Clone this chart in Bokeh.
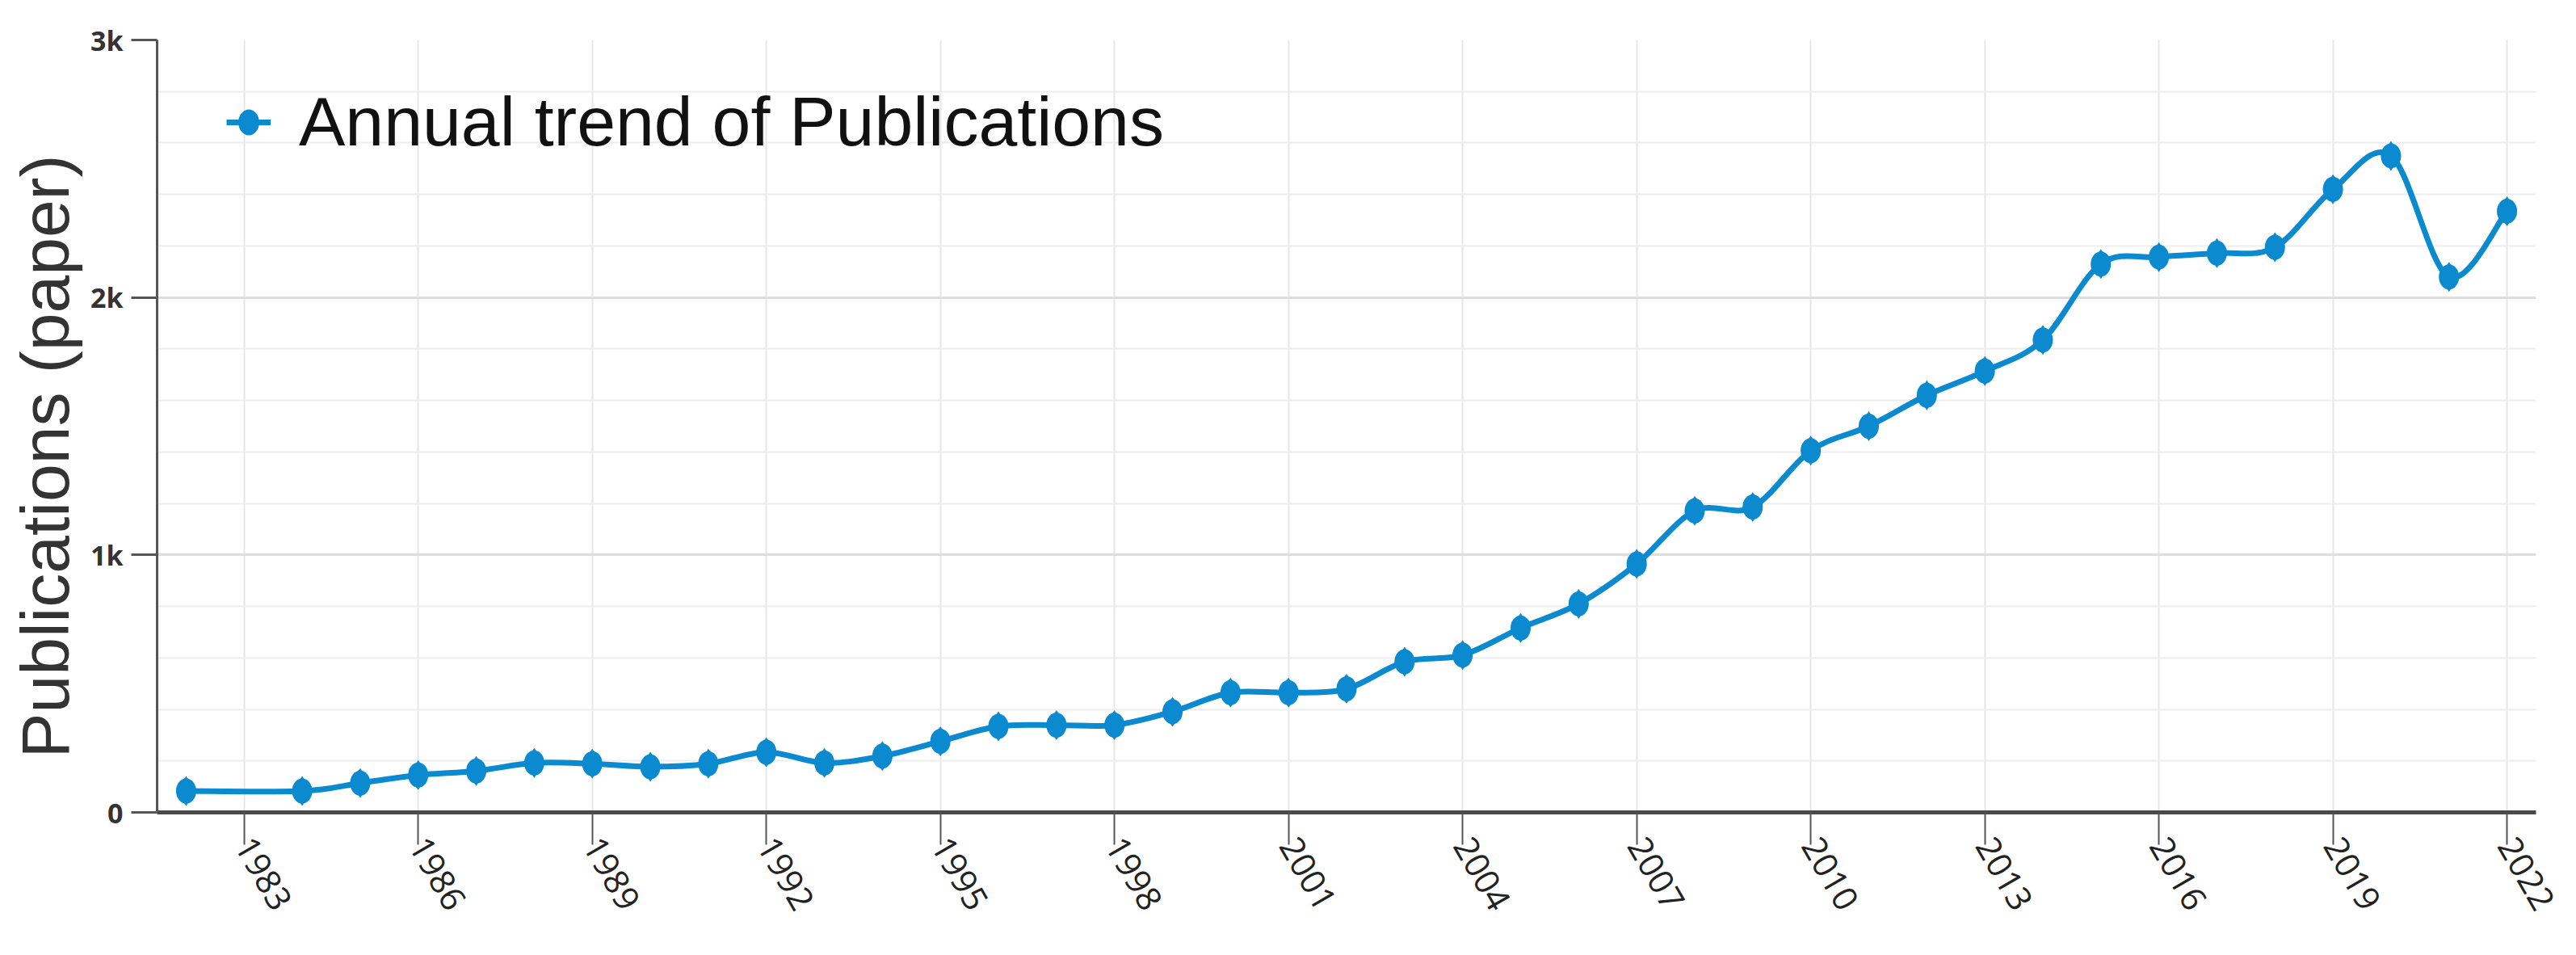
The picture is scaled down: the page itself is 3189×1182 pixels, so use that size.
import math
import numpy as np
from bokeh.plotting import figure
from bokeh.models import (ColumnDataSource, FixedTicker, NumeralTickFormatter,
                          Legend, LegendItem, Range1d, Title)
from bokeh.embed import file_html
from bokeh.resources import INLINE

# ---- data ----
years = [1982, 1984, 1985, 1986, 1987, 1988, 1989, 1990, 1991, 1992,
         1993, 1994, 1995, 1996, 1997, 1998, 1999, 2000, 2001, 2002,
         2003, 2004, 2005, 2006, 2007, 2008, 2009, 2010, 2011, 2012,
         2013, 2014, 2015, 2016, 2017, 2018, 2019, 2020, 2021, 2022]
publications = [83, 83, 114, 145, 161, 192, 189, 177, 189, 234,
                192, 219, 276, 334, 339, 339, 391, 465, 465, 480,
                585, 611, 716, 810, 965, 1171, 1186, 1405, 1500, 1620,
                1714, 1835, 2130, 2157, 2172, 2195, 2420, 2550, 2080, 2335]
x_ticks = [1983, 1986, 1989, 1992, 1995, 1998, 2001, 2004, 2007, 2010,
           2013, 2016, 2019, 2022]
x_tick_labels = ["1983", "1986", "1989", "1992", "1995", "1998", "2001",
                 "2004", "2007", "2010", "2013", "2016", "2019", "2022"]
y_ticks = [0, 1000, 2000, 3000]
y_minor_ticks = [0, 200, 400, 600, 800, 1000, 1200, 1400, 1600, 1800,
                 2000, 2200, 2400, 2600, 2800, 3000]
series_label = "Annual trend of Publications"
y_title = "Publications (paper)"

BLUE = "#0b8ad0"

# smooth (Catmull-Rom style) bezier segments built from the data points
xa = np.array(years, dtype=float)
ya = np.array(publications, dtype=float)
xp = np.concatenate([[xa[0]], xa, [xa[-1]]])
yp = np.concatenate([[ya[0]], ya, [ya[-1]]])
s = 1.0 / 6.0
n = len(xa)
seg = dict(x0=[], y0=[], x1=[], y1=[], cx0=[], cy0=[], cx1=[], cy1=[])
for i in range(n - 1):
    j = i + 1
    seg["x0"].append(xp[j]); seg["y0"].append(yp[j])
    seg["x1"].append(xp[j + 1]); seg["y1"].append(yp[j + 1])
    seg["cx0"].append(xp[j] + s * (xp[j + 1] - xp[j - 1]))
    seg["cy0"].append(yp[j] + s * (yp[j + 1] - yp[j - 1]))
    seg["cx1"].append(xp[j + 1] - s * (xp[j + 2] - xp[j]))
    seg["cy1"].append(yp[j + 1] - s * (yp[j + 2] - yp[j]))
seg_src = ColumnDataSource(seg)
pt_src = ColumnDataSource(dict(x=years, y=publications))

p = figure(width=3173, height=1160, output_backend="svg", toolbar_location=None,
           x_range=Range1d(1981.5, 2022.5), y_range=Range1d(0, 3000),
           min_border_left=189, min_border_right=34,
           min_border_top=49, min_border_bottom=155)
p.outline_line_color = None
p.background_fill_color = "white"

# grids
p.xgrid.grid_line_color = "#e6e6e6"
p.xgrid.grid_line_width = 2
p.ygrid.grid_line_color = "#dedede"
p.ygrid.grid_line_width = 3
p.ygrid.minor_grid_line_color = "#eeeeee"
p.ygrid.minor_grid_line_width = 2

# x axis
p.xaxis.ticker = FixedTicker(ticks=x_ticks)
p.xaxis.major_label_overrides = {t: l for t, l in zip(x_ticks, x_tick_labels)}
p.xaxis.major_label_orientation = -math.pi / 3
p.xaxis.axis_line_width = 5
p.xaxis.axis_line_color = "#4a4a4a"
p.xaxis.major_tick_in = 0
p.xaxis.major_tick_out = 40
p.xaxis.major_tick_line_width = 2
p.xaxis.major_tick_line_color = "#555555"
p.xaxis.minor_tick_line_color = None
p.xaxis.major_label_text_font = "Open Sans"
p.xaxis.major_label_text_font_size = "42px"
p.xaxis.major_label_text_color = "#222222"
p.xaxis.major_label_standoff = -6

# y axis
p.yaxis.ticker = FixedTicker(ticks=y_ticks, minor_ticks=y_minor_ticks)
p.yaxis.formatter = NumeralTickFormatter(format="0a")
p.yaxis.axis_line_width = 3
p.yaxis.axis_line_color = "#555555"
p.yaxis.major_tick_in = 0
p.yaxis.major_tick_out = 32
p.yaxis.major_tick_line_width = 3
p.yaxis.major_tick_line_color = "#555555"
p.yaxis.minor_tick_line_color = None
p.yaxis.major_label_text_font = "Open Sans"
p.yaxis.major_label_text_font_style = "bold"
p.yaxis.major_label_text_font_size = "34px"
p.yaxis.major_label_text_color = "#333333"
p.yaxis.major_label_standoff = 10

# y-axis title, placed lower along the axis as in the reference
yt = Title(text=y_title, align="left", offset=67, standoff=12,
           text_font="Liberation Sans", text_font_style="normal",
           text_font_size="84px", text_color="#333333")
p.add_layout(yt, "left")

# series
line_r = p.bezier(x0="x0", y0="y0", x1="x1", y1="y1", cx0="cx0", cy0="cy0",
                  cx1="cx1", cy1="cy1", source=seg_src, line_color=BLUE,
                  line_width=7)
e_r = p.ellipse(x="x", y="y", width=25, height=31, width_units="screen",
                height_units="screen", source=pt_src, fill_color=BLUE,
                line_color=None)
d_r = p.scatter(x="x", y="y", marker="diamond", size=37, source=pt_src,
                fill_color=BLUE, line_color=None)

legend = Legend(items=[LegendItem(label=series_label,
                                  renderers=[line_r, e_r, d_r])],
                location=(86, 805))
legend.label_text_font = "Liberation Sans"
legend.label_text_font_size = "86px"
legend.label_text_color = "#111111"
legend.glyph_width = 55
legend.glyph_height = 40
legend.label_standoff = 35
legend.padding = 10
legend.margin = 0
legend.border_line_color = None
legend.background_fill_alpha = 0
p.add_layout(legend)

open("out.html", "w").write(file_html(p, INLINE))
